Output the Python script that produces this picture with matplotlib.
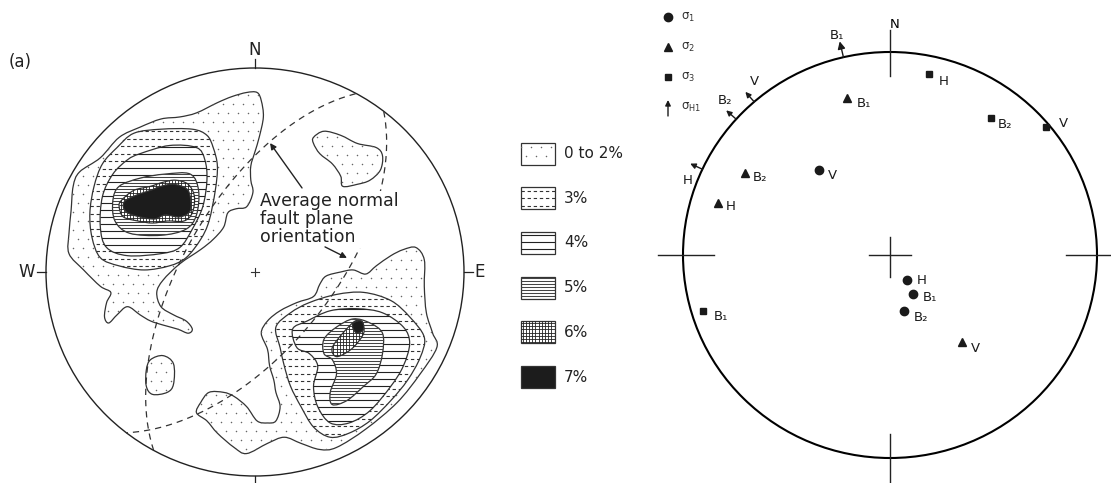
import numpy as np
import matplotlib.pyplot as plt
from matplotlib.path import Path
from matplotlib.patches import PathPatch, Rectangle, Circle
from matplotlib.collections import LineCollection

plt.rcParams['font.family'] = 'DejaVu Sans'
plt.rcParams['mathtext.default'] = 'regular'

# (a) pole density contours, outlines in percent of net radius (x east, y north)
levels = ['0 to 2%', '3%', '4%', '5%', '6%', '7%']

nw_0 = [(1, 88), (3, 84), (4, 76), (2, 66), (0, 59), (-2, 52), (-2, 45), (-1, 39), (-4, 32),
        (-9, 31), (-13, 29), (-15, 22), (-20, 16), (-26, 11), (-36, 4), (-44, -4), (-47, -10),
        (-45, -17), (-39, -21), (-33, -24), (-30, -28), (-32, -30), (-37, -28), (-44, -26),
        (-50, -24), (-55, -21), (-61, -17), (-66, -21), (-70, -25), (-72, -22), (-71, -15),
        (-69, -10), (-74, -7), (-82, 1), (-89, 9), (-89, 19), (-88, 30), (-87, 42), (-84, 49),
        (-74, 56), (-65, 66), (-55, 71), (-45, 75), (-36, 76), (-28, 78), (-18, 83), (-11, 86),
        (-4, 88)]
nw_3 = [(-58, 68), (-45, 70), (-30, 70), (-23, 67), (-20, 61), (-18, 52), (-19, 40), (-22, 25),
        (-26, 16), (-33, 7), (-41, 3), (-53, 1), (-65, 3), (-74, 7), (-78, 17), (-79, 29),
        (-77, 42), (-73, 53), (-66, 61)]
nw_4 = [(-55, 58), (-41, 62), (-28, 61), (-24, 55), (-23, 45), (-25, 32), (-30, 21), (-36, 12),
        (-45, 9), (-61, 8), (-71, 12), (-74, 22), (-73, 37), (-68, 48), (-61, 55)]
nw_5 = [(-68, 35), (-65, 42), (-55, 46), (-43, 48), (-31, 48), (-27, 40), (-28, 28), (-33, 21),
        (-45, 18), (-60, 19), (-67, 25)]
nw_6 = [(-64, 35), (-58, 40), (-50, 42), (-44, 44), (-38, 45), (-32, 43), (-29, 37), (-30, 29),
        (-34, 25), (-42, 25), (-49, 24), (-56, 25), (-63, 27), (-65, 32)]
nw_7 = [(-62, 35), (-56, 38), (-50, 40), (-45, 42), (-39, 43), (-33, 41), (-31, 37), (-31, 30),
        (-36, 27), (-43, 28), (-48, 26), (-55, 27), (-61, 29), (-63, 32)]

se_0 = [(-10, -86), (-4, -89), (6, -84), (14, -81), (22, -84), (31, -87), (39, -86), (53, -77),
        (68, -64), (79, -50), (87, -37), (85, -30), (82, -20), (81, -7), (81, 6), (77, 12),
        (71, 11), (65, 8), (58, 3), (53, -1), (47, 1), (41, 0), (34, -2), (31, -6), (28, -12),
        (20, -15), (12, -19), (6, -24), (3, -30), (6, -38), (7, -46), (9, -53), (10, -59),
        (12, -66), (10, -73), (6, -74), (1, -73), (-4, -66), (-10, -61), (-15, -59), (-22, -59),
        (-26, -64), (-28, -69), (-23, -73), (-18, -79)]
se_3 = [(10, -27), (17, -20), (26, -15), (39, -11), (52, -10), (65, -14), (74, -22), (81, -32),
        (79, -42), (73, -53), (65, -63), (55, -73), (45, -79), (36, -81), (28, -76), (22, -66),
        (17, -56), (14, -46), (12, -37)]
se_4 = [(18, -28), (25, -24), (36, -19), (49, -18), (61, -20), (71, -27), (74, -35), (71, -46),
        (65, -56), (55, -68), (45, -74), (36, -74), (30, -66), (28, -56), (30, -46), (26, -40),
        (20, -37)]
se_5 = [(33, -33), (39, -27), (47, -23), (55, -25), (61, -30), (61, -40), (58, -50), (52, -56),
        (44, -63), (37, -65), (36, -59), (39, -50), (37, -43), (33, -40)]
se_6 = [(37, -37), (42, -30), (48, -24), (51, -25), (52, -30), (47, -37), (41, -41), (38, -41)]
se_7 = [(47, -25), (51, -24), (52, -28), (49, -30), (47, -28)]

ne_0 = [(28, 66), (33, 69), (41, 67), (49, 63), (58, 61), (61, 57), (60, 50), (55, 45), (49, 43),
        (42, 42), (41, 47), (37, 53), (31, 58), (28, 63)]
sw_0 = [(-50, -43), (-44, -41), (-39, -45), (-39, -55), (-42, -59), (-49, -60), (-52, -56),
        (-52, -48)]

level_regions = [[nw_0, se_0, ne_0, sw_0], [nw_3, se_3], [nw_4, se_4],
                 [nw_5, se_5], [nw_6, se_6], [nw_7, se_7]]

# average normal fault planes: dip direction, dip
fault_dipdir = [299, 128]
fault_dip = [62, 60]

# (b) principal stress axes: trend, plunge
sigma1_trend = [321, 147, 150, 166]
sigma1_plunge = [45, 78, 72, 67]
sigma1_labels = ['V', 'H', 'B₁', 'B₂']
sigma2_trend = [345, 300, 287, 141]
sigma2_plunge = [21, 20, 14, 44]
sigma2_labels = ['B₁', 'B₂', 'H', 'V']
sigma3_trend = [12, 36, 50, 253]
sigma3_plunge = [10, 18, 2, 6]
sigma3_labels = ['H', 'B₂', 'V', 'B₁']
sh1_trend = [347, 319, 312, 295]
sh1_labels = ['B₁', 'V', 'B₂', 'H']

# label offsets in pixels (right, up)
sigma1_off = [(13, -6), (15, 0), (17, -4), (17, -7)]
sigma2_off = [(17, -6), (15, -5), (13, -3), (13, -6)]
sigma3_off = [(15, -7), (14, -6), (18, 3), (18, -5)]
sh1_off = [(-6, 22), (0, 20), (-11, 19), (-15, -11)]

W, H = 1111, 483
fig = plt.figure(figsize=(W / 100, H / 100), dpi=100)


def net_axes(cx, cy, rx, ry):
    ax = fig.add_axes([0, 0, 1, 1])
    ax.set_xlim(-cx / rx, (W - cx) / rx)
    ax.set_ylim((cy - H) / ry, cy / ry)
    ax.axis('off')
    return ax


def project(trend, plunge):
    t = np.radians(np.asarray(trend, float))
    p = np.radians(np.asarray(plunge, float))
    r = np.sqrt(2) * np.sin((np.pi / 2 - p) / 2)
    return r * np.sin(t), r * np.cos(t)


def great_circle(dipdir, dip):
    st = np.radians(dipdir - 90)
    dd = np.radians(dipdir)
    d = np.radians(dip)
    s = np.array([np.sin(st), np.cos(st), 0.0])
    v = np.array([np.sin(dd) * np.cos(d), np.cos(dd) * np.cos(d), -np.sin(d)])
    t = np.linspace(0, np.pi, 181)
    vec = np.outer(np.cos(t), s) + np.outer(np.sin(t), v)
    plunge = np.degrees(np.arcsin(np.clip(-vec[:, 2], -1, 1)))
    trend = np.degrees(np.arctan2(vec[:, 0], vec[:, 1]))
    return project(trend, plunge)


def smooth_path(pts):
    p = np.asarray(pts, float) / 100.0
    n = len(p)
    verts = [p[0]]
    codes = [Path.MOVETO]
    for i in range(n):
        p0, p1, p2, p3 = p[i - 1], p[i], p[(i + 1) % n], p[(i + 2) % n]
        verts += [p1 + (p2 - p0) / 6, p2 - (p3 - p1) / 6, p2]
        codes += [Path.CURVE4] * 3
    verts.append(p[0])
    codes.append(Path.CLOSEPOLY)
    return Path(verts, codes)


def shade(ax, patch, level, ux, uy):
    # fill pattern for one density level, clipped to the patch; ux, uy = data units per pixel
    ext = patch.get_path().transformed(patch.get_patch_transform()).get_extents()
    z = patch.get_zorder() + 0.5
    if level == 0:
        gx, gy = 10 * abs(ux), 9 * abs(uy)
        dots_x, dots_y = [], []
        for j, y in enumerate(np.arange(ext.y0 + gy / 2, ext.y1, gy)):
            for x in np.arange(ext.x0 + (j % 2) * gx / 2, ext.x1, gx):
                dots_x.append(x)
                dots_y.append(y)
        dots, = ax.plot(dots_x, dots_y, ls='none', marker='o', ms=1.1, mew=0,
                        color='#666666', zorder=z)
        dots.set_clip_path(patch)
        return
    segs = []
    if level in (1, 2, 3, 4):
        gap = {1: 7.5, 2: 7.0, 3: 3.0, 4: 3.2}[level] * abs(uy)
        for y in np.arange(ext.y0 + gap / 2, ext.y1, gap):
            segs.append([(ext.x0, y), (ext.x1, y)])
    if level == 4:
        gap = 3.2 * abs(ux)
        for x in np.arange(ext.x0 + gap / 2, ext.x1, gap):
            segs.append([(x, ext.y0), (x, ext.y1)])
    if segs:
        color = {1: '#333333', 2: '#222222', 3: '#444444', 4: '#222222'}[level]
        ls = (0, (3, 2.5)) if level == 1 else '-'
        lw = {1: 0.8, 2: 0.8, 3: 0.75, 4: 0.6}[level]
        lc = LineCollection(segs, colors=color, linewidths=lw, linestyles=ls, zorder=z)
        ax.add_collection(lc)
        lc.set_clip_path(patch)


def region(ax, patch, level, ux, uy):
    patch.set_facecolor('#1c1c1c' if level == 5 else 'white')
    patch.set_edgecolor('#333333')
    patch.set_linewidth(0.9)
    patch.set_zorder(2 + level)
    ax.add_patch(patch)
    shade(ax, patch, level, ux, uy)


# ---- left net
ax1 = net_axes(255, 272, 209, 204)
for level, shapes in enumerate(level_regions):
    for pts in shapes:
        region(ax1, PathPatch(smooth_path(pts)), level, 1 / 209, 1 / 204)

ax1.add_patch(Circle((0, 0), 1, fill=False, ec='#222222', lw=1.0, zorder=10))
for dd, dp in zip(fault_dipdir, fault_dip):
    gx, gy = great_circle(dd, dp)
    ax1.plot(gx, gy, color='#333333', lw=0.9, ls=(0, (5, 4)), zorder=11)

ax1.plot([-0.02, 0.02], [0, 0], color='#333333', lw=0.8, zorder=11)
ax1.plot([0, 0], [-0.02, 0.02], color='#333333', lw=0.8, zorder=11)
ax1.plot([0, 0], [1.0, 1.045], color='#222222', lw=0.9)
ax1.plot([-1.045, -1.0], [0, 0], color='#222222', lw=0.9)
ax1.plot([1.0, 1.045], [0, 0], color='#222222', lw=0.9)
ax1.plot([0, 0], [-1.0, -1.045], color='#222222', lw=0.9)
ax1.text(0, 1.09, 'N', ha='center', va='center', fontsize=12, color='#222222')
ax1.text(-1.09, 0, 'W', ha='center', va='center', fontsize=12, color='#222222')
ax1.text(1.075, 0, 'E', ha='center', va='center', fontsize=12, color='#222222')
ax1.text(0, -1.045, 'S', ha='center', va='top', fontsize=12, color='#222222')
ax1.text(-1.125, 1.03, '(a)', ha='center', va='center', fontsize=12, color='#222222')

ax1.text(0.024, 0.39, 'Average normal\nfault plane\norientation', ha='left', va='top',
         fontsize=12.5, color='#222222', linespacing=1.0, zorder=12,
         bbox=dict(fc='white', ec='none', pad=1))
arrow_kw = dict(arrowstyle='-|>', color='#222222', lw=1.0, mutation_scale=9, shrinkA=0, shrinkB=0)
ax1.annotate('', xy=(0.072, 0.632), xytext=(0.225, 0.412), arrowprops=arrow_kw, zorder=12)
ax1.annotate('', xy=(0.44, 0.069), xytext=(0.335, 0.123), arrowprops=arrow_kw, zorder=12)

# ---- density key
leg = fig.add_axes([515 / W, 1 - 395 / H, 140 / W, 260 / H])
leg.set_xlim(0, 140)
leg.set_ylim(260, 0)
leg.axis('off')
for i, name in enumerate(levels):
    yc = 18.5 + 44.7 * i
    region(leg, Rectangle((6, yc - 11), 34, 22), i, 1, 1)
    leg.text(49, yc, name, ha='left', va='center', fontsize=11, color='#222222')

# ---- right net
ax2 = net_axes(890, 255, 207, 203)
ax2.add_patch(Circle((0, 0), 1, fill=False, ec='black', lw=1.5))
tick_kw = dict(color='#222222', lw=1.0)
ax2.plot([0, 0], [0.88, 1.11], **tick_kw)
ax2.plot([0, 0], [-0.88, -1.12], **tick_kw)
ax2.plot([-1.12, -0.85], [0, 0], **tick_kw)
ax2.plot([0.85, 1.12], [0, 0], **tick_kw)
ax2.plot([-0.1, 0.1], [0, 0], **tick_kw)
ax2.plot([0, 0], [-0.11, 0.09], **tick_kw)
ax2.text(0.02, 1.135, 'N', ha='center', va='center', fontsize=9.5)

marker_sets = [
    (sigma1_trend, sigma1_plunge, sigma1_labels, sigma1_off, 'o', 6.0),
    (sigma2_trend, sigma2_plunge, sigma2_labels, sigma2_off, '^', 5.5),
    (sigma3_trend, sigma3_plunge, sigma3_labels, sigma3_off, 's', 5.0),
]
for tr, pl, labs, offs, mk, ms in marker_sets:
    mx, my = project(tr, pl)
    ax2.plot(mx, my, ls='none', marker=mk, ms=ms, color='#1a1a1a', zorder=5)
    for x, y, lab, off in zip(mx, my, labs, offs):
        ax2.annotate(lab, (x, y), xytext=off, textcoords='offset pixels',
                     ha='center', va='center', fontsize=9.5, color='#1a1a1a')

bx, by = project(sh1_trend, np.zeros(len(sh1_trend)))
for x, y, lab, off in zip(bx, by, sh1_labels, sh1_off):
    tip = 1.08 if lab == 'B₁' else 1.065
    ax2.annotate('', xy=(x * tip, y * tip), xytext=(x, y),
                 arrowprops=dict(arrowstyle='-|>', color='#1a1a1a', lw=1.0,
                                 mutation_scale=11 if lab == 'B₁' else 8,
                                 shrinkA=0, shrinkB=0))
    ax2.annotate(lab, (x, y), xytext=off, textcoords='offset pixels',
                 ha='center', va='center', fontsize=9.5, color='#1a1a1a')

# ---- stress axis key
key = fig.add_axes([655 / W, 1 - 120 / H, 80 / W, 120 / H])
key.set_xlim(0, 80)
key.set_ylim(120, 0)
key.axis('off')
key_names = [r'$\sigma_1$', r'$\sigma_2$', r'$\sigma_3$', r'$\sigma_{H1}$']
for i, (mk, ms) in enumerate([('o', 6.0), ('^', 5.5), ('s', 5.0)]):
    key.plot(13, 17 + 30 * i, marker=mk, ms=ms, color='#1a1a1a')
key.annotate('', xy=(13, 100), xytext=(13, 116),
             arrowprops=dict(arrowstyle='-|>', color='#1a1a1a', lw=1.0, mutation_scale=8,
                             shrinkA=0, shrinkB=0))
for i, name in enumerate(key_names):
    key.text(26, 17 + 30 * i, name, ha='left', va='center', fontsize=8.5, color='#333333')

fig.savefig('out.png', dpi=100)
